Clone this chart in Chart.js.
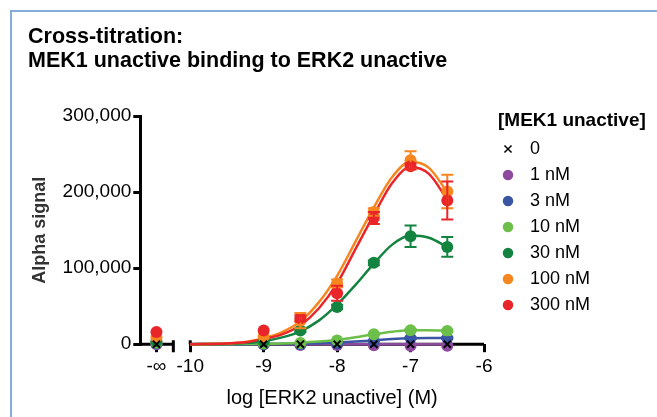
<!DOCTYPE html>
<html>
<head>
<meta charset="utf-8">
<script src="https://cdn.jsdelivr.net/npm/chart.js@4.4.1/dist/chart.umd.min.js"></script>
<style>
  html, body { margin: 0; padding: 0; background: #fff; }
  #wrap { position: relative; width: 657px; height: 417px; overflow: hidden; }
  #frame { position: absolute; left: 10px; top: 10px; width: 700px; height: 500px; border: 2px solid #86acdb; }
  canvas { position: absolute; left: 0; top: 0; }
</style>
</head>
<body>
<div id="wrap">
  <div id="frame"></div>
  <canvas id="chart" width="657" height="417"></canvas>
</div>
<script>
// log [ERK2 unactive] (M) — measured doses, -Infinity = no ERK2
const doses = [-Infinity, -9, -8.5, -8, -7.5, -7, -6.5];
const groups = ['0', '1 nM', '3 nM', '10 nM', '30 nM', '100 nM', '300 nM'];
const colors = ['#000000', '#8e4a9f', '#3b55a5', '#6cbf48', '#138440', '#f6861f', '#e9252a'];

// mean Alpha signal per MEK1 concentration
const mek0   = [0, 0, 0, 0, 0, 0, 0];
const mek1   = [0, 0, -1000, -1000, -1500, -2000, -2000];
const mek3   = [1000, 0, 0, 1000, 4000, 8000, 8000];
const mek10  = [2000, 1000, 1500, 5000, 13000, 18500, 17500];
const mek30  = [4000, 4000, 18000, 49000, 107000, 142000, 128000];
const mek100 = [9000, 10000, 31000, 80000, 174000, 242000, 201000];
const mek300 = [16000, 18000, 34000, 67000, 166000, 234000, 189000];

// error bars (SD)
const sd0   = [0, 0, 0, 0, 0, 0, 0];
const sd1   = [0, 0, 0, 0, 0, 0, 0];
const sd3   = [0, 0, 0, 0, 0, 1000, 1000];
const sd10  = [0, 0, 0, 0, 1000, 1500, 1500];
const sd30  = [0, 0, 2000, 3000, 3000, 14000, 13000];
const sd100 = [0, 0, 10000, 5000, 5000, 12000, 22000];
const sd300 = [0, 0, 4000, 10000, 8000, 4000, 25000];

// fitted curves
const fitDoses = [-10, -9.5, -9.25, -9, -8.75, -8.5, -8.25, -8, -7.75, -7.5, -7.25, -7, -6.75, -6.5];
const fit1   = [0, 0, 0, 0, 0, 0, 0, 0, 0, 0, 0, 0, 0, 0];
const fit3   = [0, 0, 0, 100, 300, 700, 1300, 2200, 3500, 5000, 6800, 7800, 8000, 8000];
const fit10  = [0, 0, 200, 500, 1000, 2000, 3500, 5500, 9000, 13000, 16500, 18500, 18500, 17500];
const fit30  = [0, 500, 1500, 4000, 9000, 17000, 31000, 52000, 78000, 106000, 131000, 143000, 140000, 128000];
const fit100 = [0, 1000, 3000, 8000, 16000, 30000, 55000, 90000, 135000, 180000, 220000, 240000, 232000, 200000];
const fit300 = [0, 1000, 2500, 7000, 13000, 25000, 47000, 80000, 125000, 170000, 212000, 233000, 224000, 190000];

const xTicks = [-Infinity, -10, -9, -8, -7, -6];

// where the "-∞" group sits on the broken axis
const INF_AT = -10.46;
const BREAK_LO = -10.23;
const X_MIN = -10.68;
const X_MAX = -6;

const means = [mek0, mek1, mek3, mek10, mek30, mek100, mek300];
const sds = [sd0, sd1, sd3, sd10, sd30, sd100, sd300];
const fits = [null, fit1, fit3, fit10, fit30, fit100, fit300];

const xPos = d => d === -Infinity ? INF_AT : d;

const datasets = [];
groups.forEach((g, i) => {
  datasets.push({
    label: g,
    data: doses.map((d, j) => ({ x: xPos(d), y: means[i][j] })),
    errors: sds[i],
    backgroundColor: colors[i],
    borderColor: colors[i],
    pointStyle: i === 0 ? 'crossRot' : 'circle',
    pointRadius: i === 0 ? 5 : 6,
    pointBorderWidth: i === 0 ? 2 : 0,
    showLine: false,
    clip: false,
    order: i === 0 ? 0 : 7 - i
  });
  if (fits[i]) {
    datasets.push({
      label: g + ' fit',
      isFit: true,
      data: fitDoses.map((d, j) => ({ x: d, y: fits[i][j] })),
      borderColor: colors[i],
      borderWidth: 2.5,
      pointRadius: 0,
      showLine: true,
      tension: 0.4,
      cubicInterpolationMode: 'monotone',
      clip: false,
      order: 20 - i
    });
  }
});

const brokenAxis = {
  id: 'brokenAxis',
  beforeDatasetsDraw(chart) {
    const { ctx, scales: { x, y } } = chart;
    const y0 = y.getPixelForValue(0);
    const b = x.getPixelForValue(BREAK_LO);
    const s = x.getPixelForValue(-10);
    ctx.save();
    ctx.strokeStyle = '#000';
    ctx.lineWidth = 3;
    ctx.beginPath();
    ctx.moveTo(x.left, y0);
    ctx.lineTo(b, y0);
    ctx.moveTo(s, y0);
    ctx.lineTo(x.right, y0);
    ctx.moveTo(b, y0 - 4);
    ctx.lineTo(b, y0 + 8);
    ctx.moveTo(s, y0 - 4);
    ctx.lineTo(s, y0);
    ctx.stroke();
    ctx.restore();
  },
  afterDraw(chart) {
    const { ctx, scales: { x } } = chart;
    const mid = (x.getPixelForValue(-10) + x.getPixelForValue(X_MAX)) / 2;
    ctx.save();
    ctx.fillStyle = '#000';
    ctx.font = '20px "Liberation Sans", Arial, sans-serif';
    ctx.textAlign = 'center';
    ctx.textBaseline = 'alphabetic';
    ctx.fillText('log [ERK2 unactive] (M)', mid - 5, 404);
    ctx.restore();
  }
};

const errorBars = {
  id: 'errorBars',
  afterDatasetsDraw(chart) {
    const { ctx, scales: { y } } = chart;
    ctx.save();
    chart.data.datasets.forEach((ds, i) => {
      if (!ds.errors) return;
      const meta = chart.getDatasetMeta(i);
      ctx.strokeStyle = ds.borderColor;
      ctx.lineWidth = 2;
      meta.data.forEach((pt, j) => {
        const e = ds.errors[j];
        if (!e) return;
        const v = ds.data[j].y;
        const top = y.getPixelForValue(v + e);
        const bot = y.getPixelForValue(v - e);
        ctx.beginPath();
        ctx.moveTo(pt.x, top);
        ctx.lineTo(pt.x, bot);
        ctx.moveTo(pt.x - 6, top);
        ctx.lineTo(pt.x + 6, top);
        ctx.moveTo(pt.x - 6, bot);
        ctx.lineTo(pt.x + 6, bot);
        ctx.stroke();
      });
    });
    ctx.restore();
  }
};

const sideLegend = {
  id: 'sideLegend',
  afterDraw(chart) {
    const { ctx, chartArea } = chart;
    const left = chartArea.right + 14;
    ctx.save();
    ctx.fillStyle = '#000';
    ctx.textBaseline = 'middle';
    ctx.font = 'bold 19px "Liberation Sans", Arial, sans-serif';
    ctx.fillText('[MEK1 unactive]', left, 121);
    ctx.font = '18px "Liberation Sans", Arial, sans-serif';
    groups.forEach((g, i) => {
      const cy = 149 + i * 26;
      ctx.strokeStyle = colors[i];
      ctx.fillStyle = colors[i];
      ctx.lineWidth = 1.5;
      Chart.helpers.drawPoint(ctx, {
        pointStyle: i === 0 ? 'crossRot' : 'circle',
        radius: i === 0 ? 5 : 4.5,
        rotation: 0,
        borderWidth: 1.5
      }, left + 10, cy);
      ctx.fillStyle = '#000';
      ctx.fillText(g, left + 32, cy);
    });
    ctx.restore();
  }
};

new Chart(document.getElementById('chart'), {
  type: 'scatter',
  data: { datasets },
  options: {
    responsive: false,
    devicePixelRatio: 1,
    animation: false,
    layout: { padding: { left: 28, right: 173, top: 25, bottom: 36 } },
    plugins: {
      legend: { display: false },
      tooltip: { enabled: false },
      title: {
        display: true,
        text: ['Cross-titration:', 'MEK1 unactive binding to ERK2 unactive'],
        align: 'start',
        color: '#000',
        font: { family: '"Liberation Sans", Arial, sans-serif', size: 21.5, weight: 'bold', lineHeight: 1.12 },
        padding: { top: 0, bottom: 43 }
      }
    },
    scales: {
      x: {
        type: 'linear',
        min: X_MIN,
        max: X_MAX,
        afterBuildTicks: scale => {
          scale.ticks = xTicks.map(v => ({ value: xPos(v) }));
        },
        ticks: {
          autoSkip: false,
          maxRotation: 0,
          padding: 3,
          color: '#000',
          font: { family: '"Liberation Sans", Arial, sans-serif', size: 19 },
          callback: v => v === INF_AT ? '-∞' : String(v)
        },
        grid: { drawOnChartArea: false, tickLength: 8, lineWidth: 3, color: '#000' },
        border: { display: false }
      },
      y: {
        min: 0,
        max: 300000,
        ticks: {
          stepSize: 100000,
          padding: 2,
          color: '#000',
          font: { family: '"Liberation Sans", Arial, sans-serif', size: 19 },
          callback: v => v.toLocaleString('en-US')
        },
        grid: { drawOnChartArea: false, tickLength: 7, lineWidth: 3, color: '#000' },
        border: { display: true, width: 3, color: '#000' },
        title: {
          display: true,
          text: 'Alpha signal',
          color: '#333',
          font: { family: '"Liberation Sans", Arial, sans-serif', size: 18, weight: 'bold' },
          padding: { top: 1, bottom: 10 }
        }
      }
    }
  },
  plugins: [brokenAxis, errorBars, sideLegend]
});
</script>
</body>
</html>
